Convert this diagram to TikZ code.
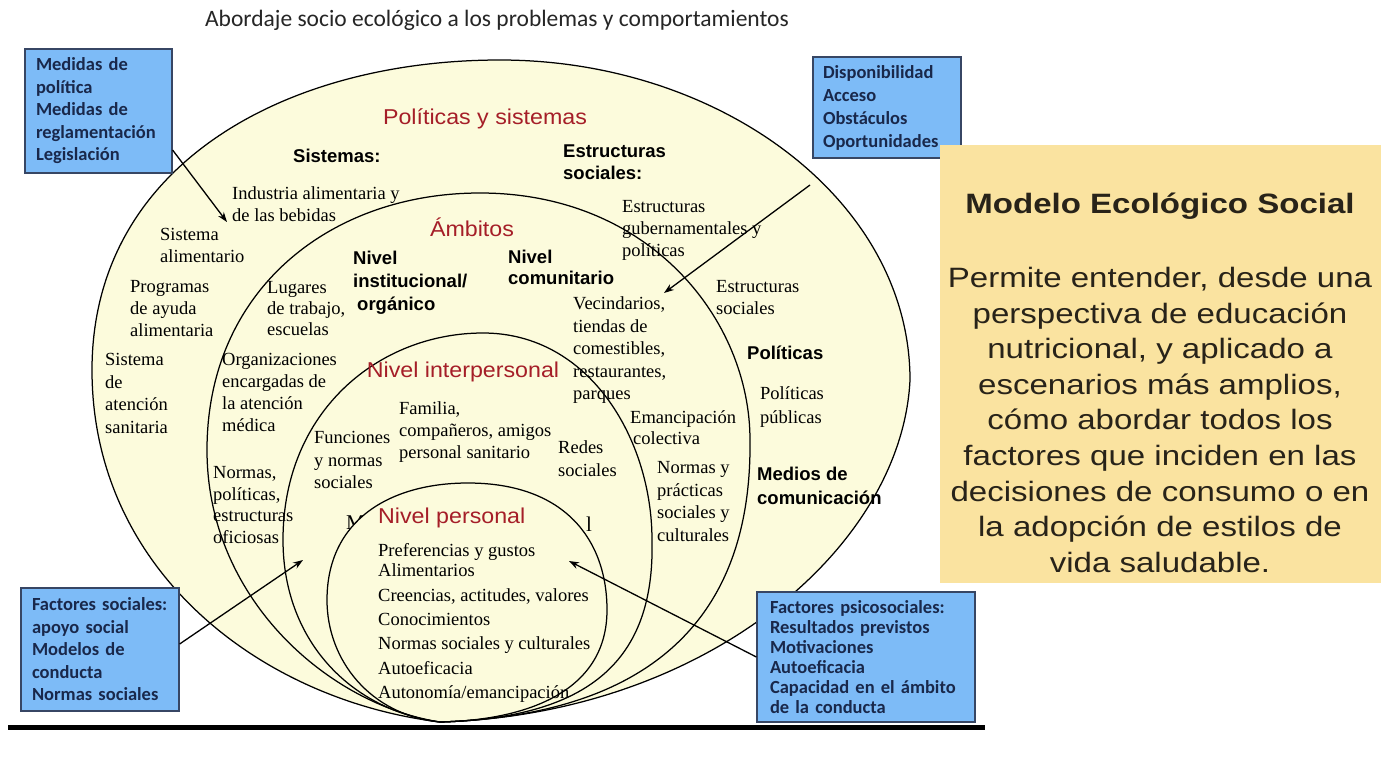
\documentclass[tikz,border=0pt]{standalone}
\usepackage{fontspec}
\setmainfont{Liberation Serif}
\newfontfamily\sansf{Liberation Sans}
\newfontfamily\redf[FakeStretch=1.08]{Liberation Sans}
\newfontfamily\wides[FakeStretch=1.18]{Liberation Sans}
\newfontfamily\calib{Carlito}
\usetikzlibrary{arrows.meta,calc}
\definecolor{cream}{RGB}{252,251,220}
\definecolor{hred}{RGB}{165,30,40}
\definecolor{boxblue}{RGB}{125,187,247}
\definecolor{boxline}{RGB}{55,70,100}
\definecolor{navy}{RGB}{25,40,75}
\definecolor{ybox}{RGB}{250,227,160}
\definecolor{ytext}{RGB}{40,35,25}
\tikzset{
 ser/.style={anchor=north west, inner sep=0pt, align=left, font=\fontsize{18.5}{22}\selectfont},
 bsan/.style={anchor=north west, inner sep=0pt, align=left, font=\sansf\bfseries\fontsize{18.5}{22.5}\selectfont},
 redh/.style={inner sep=0pt, text=hred, font=\redf\fontsize{21.5}{24}\selectfont},
 bbox/.style={draw=boxline, fill=boxblue, line width=1.2pt, inner xsep=11pt, inner ysep=0pt, align=left, text=navy, font=\calib\bfseries\fontsize{18.5}{22.5}\selectfont},
 arr/.style={-{Stealth[length=10pt,width=7pt]}, line width=1.3pt},
 ring/.style={line width=1.25pt}
}
\def\outerpath{(440,722) .. controls (260,700) and (92,570) .. (92,370) .. controls (92,165) and (285,60) .. (500,60) .. controls (720,60) and (910,200) .. (910,380) .. controls (902,545) and (710,714) .. (440,722)}
\def\ambpath{(440,722) .. controls (330,705) and (207,600) .. (207,450) .. controls (207,290) and (330,193) .. (480,193) .. controls (650,193) and (750,320) .. (750,440) .. controls (752,610) and (660,715) .. (440,722)}
\def\intpath{(440,722) .. controls (350,710) and (283,640) .. (283,540) .. controls (283,410) and (380,333) .. (483,333) .. controls (590,333) and (652,440) .. (652,540) .. controls (655,660) and (590,718) .. (440,722)}
\def\perpath{(440,722) .. controls (370,715) and (327,660) .. (327,600) .. controls (327,520) and (390,483) .. (468,483) .. controls (565,483) and (607,540) .. (607,610) .. controls (607,690) and (530,720) .. (440,722)}
\begin{document}
\begin{tikzpicture}[x=1pt,y=-1pt]
\useasboundingbox[fill=white] (0,0) rectangle (1387,756);

% title
\node[font=\calib\fontsize{23.5}{26}\selectfont, text=black!85] (title) at (497,20) {Abordaje socio ecológico a los problemas y comportamientos};

% outer shape fill
\path[fill=cream] \outerpath -- cycle;

% hidden text fragments
\node[inner sep=0pt, font=\fontsize{21}{24}\selectfont, anchor=west] (frM) at (346,523) {M};
\node[inner sep=0pt, font=\fontsize{21}{24}\selectfont, anchor=west] (frL) at (586,524) {l};
\path[fill=cream] \perpath -- cycle;

% rings
\draw[ring] \outerpath;
\draw[ring] \ambpath;
\draw[ring] \intpath;
\draw[ring] \perpath;

% red headings
\node[redh] (hps) at (485,119) {Políticas y sistemas};
\node[redh] (ham) at (472,227) {Ámbitos};
\node[redh] (hin) at (463,372) {Nivel interpersonal};
\node[redh, anchor=west] (hpe) at (378,518) {Nivel personal};

% bold sans labels
\node[bsan] (bsis) at (293,148.5) {Sistemas:};
\node[bsan, font=\sansf\bfseries\fontsize{18.5}{22}\selectfont] (bes) at (563,144.5) {Estructuras\\sociales:};
\node[bsan, font=\sansf\bfseries\fontsize{18.5}{23}\selectfont] (bni) at (353,250.5) {Nivel\\institucional/\\\hspace{4pt}orgánico};
\node[bsan, font=\sansf\bfseries\fontsize{18.5}{21}\selectfont] (bnc) at (508,249.5) {Nivel\\comunitario};
\node[bsan] (bpol) at (747,345.5) {Políticas};
\node[bsan, font=\sansf\bfseries\fontsize{18.5}{24}\selectfont] (bmed) at (757,466.5) {Medios de\\comunicación};

% serif labels
\node[ser] (ind) at (232,186.5) {Industria alimentaria y\\de las bebidas};
\node[ser] (sal) at (160,228.5) {Sistema\\alimentario};
\node[ser] (prog) at (130,280.5) {Programas\\de ayuda\\alimentaria};
\node[ser, font=\fontsize{18.5}{22.5}\selectfont] (sas) at (105,353.5) {Sistema\\de\\atención\\sanitaria};
\node[ser] (egp) at (622,200.5) {Estructuras\\gubernamentales y\\políticas};
\node[ser, font=\fontsize{18.5}{21}\selectfont] (lug) at (267,281.5) {Lugares\\de trabajo,\\escuelas};
\node[ser, font=\fontsize{18.5}{22.5}\selectfont] (vec) at (573,296.5) {Vecindarios,\\tiendas de\\comestibles,\\restaurantes,\\parques};
\node[ser, font=\fontsize{18.5}{21.5}\selectfont] (es2) at (716,280.5) {Estructuras\\sociales};
\node[ser, font=\fontsize{18.5}{24}\selectfont] (pp) at (760,386.5) {Políticas\\públicas};
\node[ser] (org) at (222,353.5) {Organizaciones\\encargadas de\\la atención\\médica};
\node[ser] (fam) at (399,401.5) {Familia,\\compañeros, amigos\\personal sanitario};
\node[ser, font=\fontsize{18.5}{22.5}\selectfont] (fun) at (314,431.5) {Funciones\\y normas\\sociales};
\node[ser, font=\fontsize{18.5}{23}\selectfont] (red) at (558,440.5) {Redes\\sociales};
\node[ser, font=\fontsize{18.5}{21}\selectfont] (eman) at (630,410.5) {Emancipación\\\hspace{3pt}colectiva};
\node[ser, font=\fontsize{18.5}{22.5}\selectfont] (npsc) at (657,461.5) {Normas y\\prácticas\\sociales y\\culturales};
\node[ser, font=\fontsize{18.5}{21.5}\selectfont] (npeo) at (213,466.5) {Normas,\\políticas,\\estructuras\\oficiosas};
\node[ser, font=\fontsize{18.5}{20}\selectfont] (pers1) at (378,543.5) {Preferencias y gustos\\Alimentarios};
\node[ser, font=\fontsize{18.5}{24.2}\selectfont] (pers2) at (378,588.5) {Creencias, actitudes, valores\\Conocimientos\\Normas sociales y culturales\\Autoeficacia\\Autonomía/emancipación};

% blue boxes
\node[bbox, minimum width=147pt, minimum height=124pt, text width=125pt] (med) at (98.5,111) {Medidas de\\política\\Medidas de\\reglamentación\\Legislación};
\node[bbox, minimum width=148pt, minimum height=101pt, text width=128pt, inner xsep=10pt, font=\calib\bfseries\fontsize{18.5}{23}\selectfont] (disp) at (887,107.5) {Disponibilidad\\Acceso\\Obstáculos\\Oportunidades};
\node[bbox, minimum width=158pt, minimum height=123pt, text width=136pt] (fs) at (100,649.5) {Factores sociales:\\apoyo social\\Modelos de\\conducta\\Normas sociales};
\node[bbox, minimum width=218pt, minimum height=130pt, text width=192pt, inner xsep=13pt, font=\calib\bfseries\fontsize{18.5}{20}\selectfont] (ps) at (866,657) {Factores psicosociales:\\Resultados previstos\\Motivaciones\\Autoeficacia\\Capacidad en el ámbito\\de la conducta};

% arrows
\coordinate (medEnd) at (227,222);
\coordinate (dispA) at (810,185);
\coordinate (dispB) at (664,293);
\coordinate (fsEnd) at (303,560);
\coordinate (psEnd) at (569,561);
\draw[arr] ([yshift=-39pt]med.east) -- (medEnd);
\draw[arr] (dispA) -- (dispB);
\draw[arr] ([yshift=5.5pt]fs.east) -- (fsEnd);
\draw[arr] (ps.west) -- (psEnd);

% bottom rule
\draw[line width=5pt] (8,727) -- (985,727);

% yellow box
\node[fill=ybox, minimum width=441pt, minimum height=438pt, inner sep=0pt] (ybx) at (1160.5,364) {};
\node[font=\wides\bfseries\fontsize{28}{30}\selectfont, text=ytext, anchor=base, inner sep=0pt] (ytitle) at (1160,213) {Modelo Ecológico Social};
\node[font=\wides\fontsize{28}{35.6}\selectfont, text=ytext, anchor=north, align=center, inner sep=0pt] (ybody) at (1160,267) {Permite entender, desde una\\perspectiva de educación\\nutricional, y aplicado a\\escenarios más amplios,\\cómo abordar todos los\\factores que inciden en las\\decisiones de consumo o en\\la adopción de estilos de\\vida saludable.};
\end{tikzpicture}
\end{document}
